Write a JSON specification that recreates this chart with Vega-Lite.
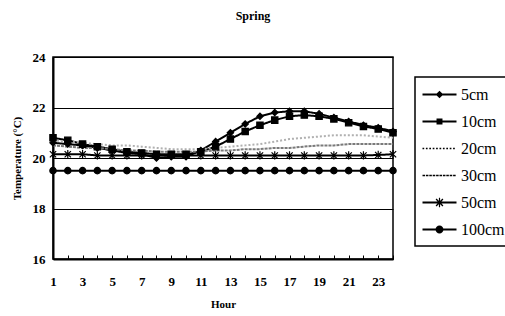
{
  "$schema": "https://vega.github.io/schema/vega-lite/v6.json",
  "width": 340,
  "height": 202,
  "autosize": "none",
  "padding": {"left": 53, "top": 57, "right": 112, "bottom": 57},
  "background": "white",
  "title": {"text": "Spring", "font": "Liberation Serif", "fontSize": 12, "fontWeight": "bold", "color": "black", "dx": 30, "offset": 28},
  "config": {
    "font": "Liberation Serif",
    "view": {"stroke": "black", "strokeWidth": 1.5},
    "axis": {"labelFont": "Liberation Serif", "titleFont": "Liberation Serif", "labelColor": "black", "titleColor": "black", "labelFontWeight": "bold", "titleFontWeight": "bold", "domainColor": "black", "tickColor": "black"},
    "legend": {"orient": "none", "legendX": 362, "legendY": 20, "strokeColor": "black", "strokeWidth": 1.5, "padding": 8, "fillColor": "white",
      "labelFont": "Liberation Serif", "labelFontSize": 16, "labelColor": "black", "rowPadding": 9, "labelOffset": 12, "symbolOffset": 7, "symbolSize": 289, "symbolOpacity": 1}
  },
  "data": {"values": [
    {"h":1,"d":"5cm","t":20.6},{"h":2,"d":"5cm","t":20.55},{"h":3,"d":"5cm","t":20.5},{"h":4,"d":"5cm","t":20.4},{"h":5,"d":"5cm","t":20.3},{"h":6,"d":"5cm","t":20.2},{"h":7,"d":"5cm","t":20.15},{"h":8,"d":"5cm","t":20.0},{"h":9,"d":"5cm","t":20.05},{"h":10,"d":"5cm","t":20.05},{"h":11,"d":"5cm","t":20.3},{"h":12,"d":"5cm","t":20.65},{"h":13,"d":"5cm","t":21.0},{"h":14,"d":"5cm","t":21.35},{"h":15,"d":"5cm","t":21.65},{"h":16,"d":"5cm","t":21.8},{"h":17,"d":"5cm","t":21.85},{"h":18,"d":"5cm","t":21.85},{"h":19,"d":"5cm","t":21.75},{"h":20,"d":"5cm","t":21.6},{"h":21,"d":"5cm","t":21.45},{"h":22,"d":"5cm","t":21.3},{"h":23,"d":"5cm","t":21.2},{"h":24,"d":"5cm","t":21.05},
    {"h":1,"d":"10cm","t":20.8},{"h":2,"d":"10cm","t":20.7},{"h":3,"d":"10cm","t":20.55},{"h":4,"d":"10cm","t":20.45},{"h":5,"d":"10cm","t":20.35},{"h":6,"d":"10cm","t":20.25},{"h":7,"d":"10cm","t":20.2},{"h":8,"d":"10cm","t":20.15},{"h":9,"d":"10cm","t":20.15},{"h":10,"d":"10cm","t":20.15},{"h":11,"d":"10cm","t":20.25},{"h":12,"d":"10cm","t":20.45},{"h":13,"d":"10cm","t":20.75},{"h":14,"d":"10cm","t":21.05},{"h":15,"d":"10cm","t":21.3},{"h":16,"d":"10cm","t":21.5},{"h":17,"d":"10cm","t":21.65},{"h":18,"d":"10cm","t":21.7},{"h":19,"d":"10cm","t":21.65},{"h":20,"d":"10cm","t":21.55},{"h":21,"d":"10cm","t":21.4},{"h":22,"d":"10cm","t":21.25},{"h":23,"d":"10cm","t":21.15},{"h":24,"d":"10cm","t":21.0},
    {"h":1,"d":"20cm","t":20.7},{"h":2,"d":"20cm","t":20.65},{"h":3,"d":"20cm","t":20.6},{"h":4,"d":"20cm","t":20.55},{"h":5,"d":"20cm","t":20.5},{"h":6,"d":"20cm","t":20.5},{"h":7,"d":"20cm","t":20.45},{"h":8,"d":"20cm","t":20.4},{"h":9,"d":"20cm","t":20.35},{"h":10,"d":"20cm","t":20.35},{"h":11,"d":"20cm","t":20.35},{"h":12,"d":"20cm","t":20.4},{"h":13,"d":"20cm","t":20.45},{"h":14,"d":"20cm","t":20.5},{"h":15,"d":"20cm","t":20.55},{"h":16,"d":"20cm","t":20.65},{"h":17,"d":"20cm","t":20.75},{"h":18,"d":"20cm","t":20.8},{"h":19,"d":"20cm","t":20.85},{"h":20,"d":"20cm","t":20.9},{"h":21,"d":"20cm","t":20.9},{"h":22,"d":"20cm","t":20.9},{"h":23,"d":"20cm","t":20.85},{"h":24,"d":"20cm","t":20.8},
    {"h":1,"d":"30cm","t":20.5},{"h":2,"d":"30cm","t":20.45},{"h":3,"d":"30cm","t":20.4},{"h":4,"d":"30cm","t":20.4},{"h":5,"d":"30cm","t":20.35},{"h":6,"d":"30cm","t":20.3},{"h":7,"d":"30cm","t":20.3},{"h":8,"d":"30cm","t":20.25},{"h":9,"d":"30cm","t":20.25},{"h":10,"d":"30cm","t":20.25},{"h":11,"d":"30cm","t":20.25},{"h":12,"d":"30cm","t":20.3},{"h":13,"d":"30cm","t":20.3},{"h":14,"d":"30cm","t":20.35},{"h":15,"d":"30cm","t":20.35},{"h":16,"d":"30cm","t":20.4},{"h":17,"d":"30cm","t":20.4},{"h":18,"d":"30cm","t":20.45},{"h":19,"d":"30cm","t":20.5},{"h":20,"d":"30cm","t":20.5},{"h":21,"d":"30cm","t":20.55},{"h":22,"d":"30cm","t":20.55},{"h":23,"d":"30cm","t":20.55},{"h":24,"d":"30cm","t":20.55},
    {"h":1,"d":"50cm","t":20.15},{"h":2,"d":"50cm","t":20.15},{"h":3,"d":"50cm","t":20.15},{"h":4,"d":"50cm","t":20.1},{"h":5,"d":"50cm","t":20.1},{"h":6,"d":"50cm","t":20.1},{"h":7,"d":"50cm","t":20.1},{"h":8,"d":"50cm","t":20.1},{"h":9,"d":"50cm","t":20.1},{"h":10,"d":"50cm","t":20.1},{"h":11,"d":"50cm","t":20.1},{"h":12,"d":"50cm","t":20.1},{"h":13,"d":"50cm","t":20.1},{"h":14,"d":"50cm","t":20.1},{"h":15,"d":"50cm","t":20.1},{"h":16,"d":"50cm","t":20.1},{"h":17,"d":"50cm","t":20.1},{"h":18,"d":"50cm","t":20.1},{"h":19,"d":"50cm","t":20.1},{"h":20,"d":"50cm","t":20.1},{"h":21,"d":"50cm","t":20.1},{"h":22,"d":"50cm","t":20.1},{"h":23,"d":"50cm","t":20.12},{"h":24,"d":"50cm","t":20.15},
    {"h":1,"d":"100cm","t":19.5},{"h":2,"d":"100cm","t":19.5},{"h":3,"d":"100cm","t":19.5},{"h":4,"d":"100cm","t":19.5},{"h":5,"d":"100cm","t":19.5},{"h":6,"d":"100cm","t":19.5},{"h":7,"d":"100cm","t":19.5},{"h":8,"d":"100cm","t":19.5},{"h":9,"d":"100cm","t":19.5},{"h":10,"d":"100cm","t":19.5},{"h":11,"d":"100cm","t":19.5},{"h":12,"d":"100cm","t":19.5},{"h":13,"d":"100cm","t":19.5},{"h":14,"d":"100cm","t":19.5},{"h":15,"d":"100cm","t":19.5},{"h":16,"d":"100cm","t":19.5},{"h":17,"d":"100cm","t":19.5},{"h":18,"d":"100cm","t":19.5},{"h":19,"d":"100cm","t":19.5},{"h":20,"d":"100cm","t":19.5},{"h":21,"d":"100cm","t":19.5},{"h":22,"d":"100cm","t":19.5},{"h":23,"d":"100cm","t":19.5},{"h":24,"d":"100cm","t":19.5}
  ]},
  "encoding": {
    "x": {"field": "h", "type": "quantitative", "title": "Hour",
      "scale": {"domain": [1, 24], "nice": false, "zero": false},
      "axis": {"values": [1,2,3,4,5,6,7,8,9,10,11,12,13,14,15,16,17,18,19,20,21,22,23,24],
        "labelExpr": "datum.value % 2 == 1 ? datum.label : ''",
        "grid": false, "tickSize": -4, "tickWidth": 1, "domainWidth": 2, "labelFontSize": 13, "labelPadding": 26, "labelBaseline": "middle", "titleFontSize": 11, "titlePadding": 10, "labelOverlap": false, "labelFlush": false}},
    "y": {"field": "t", "type": "quantitative", "title": "Temperature (°C)",
      "scale": {"domain": [16, 24], "nice": false, "zero": false},
      "axis": {"values": [16,18,20,22,24], "grid": true, "gridColor": "black", "gridWidth": 1, "gridOpacity": 1, "ticks": false, "domainWidth": 2, "labelFontSize": 13, "labelPadding": 8, "titleFontSize": 11, "titlePadding": 10}}
  },
  "layer": [
    {
      "mark": {"type": "line", "strokeWidth": 2},
      "encoding": {
        "color": {"field": "d", "type": "nominal", "legend": null,
          "scale": {"domain": ["5cm","10cm","20cm","30cm","50cm","100cm"], "range": ["black","black","#b0b0b0","#7a7a7a","black","black"]}},
        "strokeDash": {"field": "d", "type": "nominal", "legend": null,
          "scale": {"domain": ["5cm","10cm","20cm","30cm","50cm","100cm"], "range": [[1,0],[1,0],[2,2],[3,1],[1,0],[1,0]]}}
      }
    },
    {
      "transform": [{"filter": {"field": "d", "oneOf": ["5cm","10cm","50cm","100cm"]}}],
      "mark": {"type": "point", "filled": false, "fill": "black", "stroke": "black", "strokeWidth": 1.2, "opacity": 1, "size": 40},
      "encoding": {
        "shape": {"field": "d", "type": "nominal", "legend": null,
          "scale": {"domain": ["5cm","10cm","20cm","30cm","50cm","100cm"], "range": ["diamond","square","circle","circle","M-1,-1L1,1M-1,1L1,-1M0,-1.3V1.3","circle"]}}
      }
    },
    {
      "transform": [{"filter": "false"}],
      "mark": {"type": "point", "filled": true, "opacity": 1, "size": 289},
      "encoding": {
        "shape": {"field": "d", "type": "nominal", "title": null,
          "scale": {"domain": ["5cm","10cm","20cm","30cm","50cm","100cm"], "range": [
            "M-2,-0.12H2V0.12H-2ZM0,-0.45L0.45,0L0,0.45L-0.45,0Z",
            "M-2,-0.12H2V0.12H-2ZM-0.35,-0.35H0.35V0.35H-0.35Z",
            "M-2,-0.09H-1.8V0.09H-2ZM-1.6,-0.09H-1.4V0.09H-1.6ZM-1.2,-0.09H-1V0.09H-1.2ZM-0.8,-0.09H-0.6V0.09H-0.8ZM-0.4,-0.09H-0.2V0.09H-0.4ZM0,-0.09H0.2V0.09H0ZM0.4,-0.09H0.6V0.09H0.4ZM0.8,-0.09H1V0.09H0.8ZM1.2,-0.09H1.4V0.09H1.2ZM1.6,-0.09H1.8V0.09H1.6Z",
            "M-2,-0.09H-1.7V0.09H-2ZM-1.6,-0.09H-1.3V0.09H-1.6ZM-1.2,-0.09H-0.9V0.09H-1.2ZM-0.8,-0.09H-0.5V0.09H-0.8ZM-0.4,-0.09H-0.1V0.09H-0.4ZM0,-0.09H0.3V0.09H0ZM0.4,-0.09H0.7V0.09H0.4ZM0.8,-0.09H1.1V0.09H0.8ZM1.2,-0.09H1.5V0.09H1.2ZM1.6,-0.09H1.9V0.09H1.6Z",
            "M-2,-0.12H2V0.12H-2ZM-0.343,-0.457L0.457,0.343L0.343,0.457L-0.457,-0.343ZM0.343,-0.457L0.457,-0.343L-0.343,0.457L-0.457,0.343ZM-0.07,-0.55H0.07V0.55H-0.07Z",
            "M-2,-0.12H2V0.12H-2ZM-0.47,0A0.47,0.47 0 1,1 0.47,0A0.47,0.47 0 1,1 -0.47,0Z"
          ]}},
        "fill": {"field": "d", "type": "nominal", "title": null,
          "scale": {"domain": ["5cm","10cm","20cm","30cm","50cm","100cm"], "range": ["black","black","#a0a0a0","#707070","black","black"]}}
      }
    }
  ],
  "resolve": {"scale": {"shape": "independent"}}
}
